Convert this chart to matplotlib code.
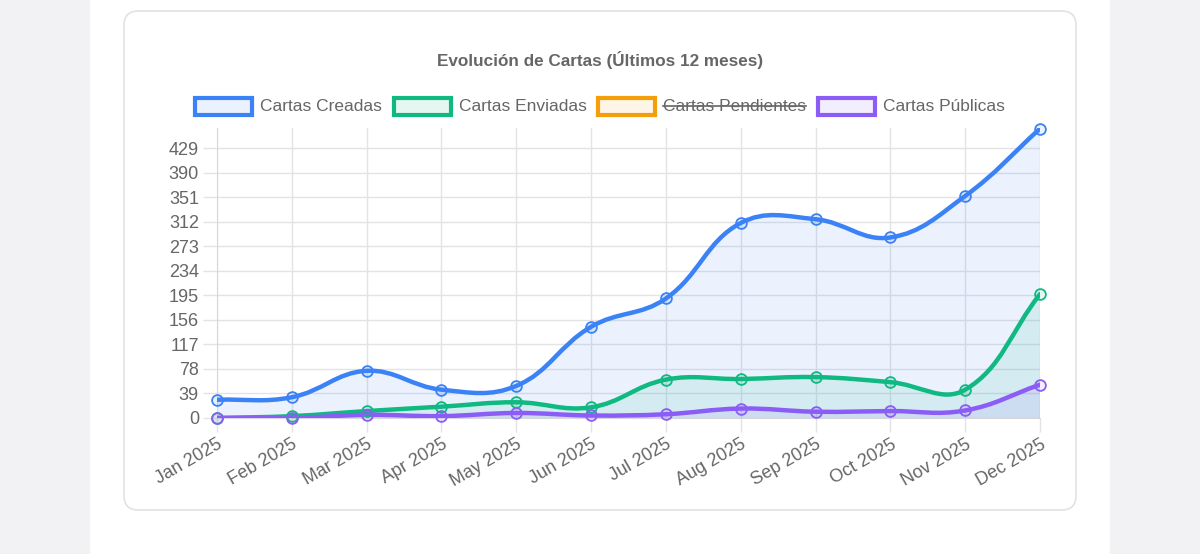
import numpy as np
import matplotlib.pyplot as plt
from matplotlib.patches import FancyBboxPatch, Rectangle
from matplotlib.path import Path
from matplotlib.patches import PathPatch

plt.rcParams['font.family'] = ['Liberation Sans', 'DejaVu Sans']

# data
months = ['Jan 2025', 'Feb 2025', 'Mar 2025', 'Apr 2025', 'May 2025', 'Jun 2025',
          'Jul 2025', 'Aug 2025', 'Sep 2025', 'Oct 2025', 'Nov 2025', 'Dec 2025']
creadas = [29, 33, 75, 45, 51, 145, 190, 310, 316, 287, 353, 460]
enviadas = [0, 3, 11, 18, 25, 17, 61, 62, 65, 57, 45, 197]
pendientes = [0, 0, 0, 0, 0, 0, 0, 0, 0, 0, 0, 0]  # hidden in legend
publicas = [0, 0, 5, 3, 8, 4, 6, 15, 10, 11, 12, 53]
yticks = [0, 39, 78, 117, 156, 195, 234, 273, 312, 351, 390, 429]

names = ['Cartas Creadas', 'Cartas Enviadas', 'Cartas Pendientes', 'Cartas Públicas']
colors = ['#3b82f6', '#10b981', '#f59e0b', '#8b5cf6']
hidden = [False, False, True, False]
series = [creadas, enviadas, pendientes, publicas]

W, H = 1200, 554
fig = plt.figure(figsize=(W / 100, H / 100), dpi=100)
fig.patch.set_facecolor('white')

# page background strips and card
fig.patches.append(Rectangle((0, 0), 89 / W, 1, transform=fig.transFigure,
                             color='#f2f2f5', zorder=-10))
fig.patches.append(Rectangle((1110 / W, 0), 90 / W, 1, transform=fig.transFigure,
                             color='#f2f2f5', zorder=-10))
fig.patches.append(FancyBboxPatch((124 / W, 1 - 510 / H), 952 / W, 499 / H,
                                  boxstyle='round,pad=0,rounding_size=0.012',
                                  transform=fig.transFigure, fc='white',
                                  ec='#e2e2e6', lw=1.2, zorder=-5,
                                  mutation_aspect=W / H))

left, right, top, bottom = 217, 1040, 128, 418
ax = fig.add_axes([left / W, 1 - bottom / H, (right - left) / W, (bottom - top) / H])
ymax = 461
ax.set_xlim(0, len(months) - 1)
ax.set_ylim(0, ymax)
ax.set_facecolor('none')

px_x = (right - left) / (len(months) - 1)
px_y = (bottom - top) / ymax


def spline(xs, ys, t=0.4):
    # Chart.js style bezier spline, distances in pixel space
    n = len(xs)
    px = np.array(xs) * px_x
    py = np.array(ys, dtype=float) * px_y
    cp_prev = [(px[0], py[0])] * n
    cp_next = [(px[0], py[0])] * n
    for i in range(n):
        p0 = (px[max(i - 1, 0)], py[max(i - 1, 0)])
        p1 = (px[i], py[i])
        p2 = (px[min(i + 1, n - 1)], py[min(i + 1, n - 1)])
        d01 = np.hypot(p1[0] - p0[0], p1[1] - p0[1])
        d12 = np.hypot(p2[0] - p1[0], p2[1] - p1[1])
        s = d01 + d12
        s01 = d01 / s if s else 0
        s12 = d12 / s if s else 0
        cp_prev[i] = (p1[0] - t * s01 * (p2[0] - p0[0]), p1[1] - t * s01 * (p2[1] - p0[1]))
        cp_next[i] = (p1[0] + t * s12 * (p2[0] - p0[0]), p1[1] + t * s12 * (p2[1] - p0[1]))
    verts = [(px[0], py[0])]
    codes = [Path.MOVETO]
    for i in range(n - 1):
        c1 = cp_next[i]
        c2 = cp_prev[i + 1]
        c1 = (c1[0], min(max(c1[1], 0), ymax * px_y))
        c2 = (c2[0], min(max(c2[1], 0), ymax * px_y))
        verts += [c1, c2, (px[i + 1], py[i + 1])]
        codes += [Path.CURVE4] * 3
    verts = [(vx / px_x, vy / px_y) for vx, vy in verts]
    return verts, codes


x = np.arange(len(months))
for k, (vals, c, hid) in enumerate(zip(series, colors, hidden)):
    if hid:
        continue
    verts, codes = spline(x, vals)
    fill_verts = verts + [(x[-1], 0), (x[0], 0), verts[0]]
    fill_codes = codes + [Path.LINETO, Path.LINETO, Path.CLOSEPOLY]
    ax.add_patch(PathPatch(Path(fill_verts, fill_codes), fc=c, alpha=0.1, ec='none', zorder=1 + k))
    ax.add_patch(PathPatch(Path(verts, codes), fc='none', ec=c, lw=3.2, zorder=5 + k,
                           capstyle='round', joinstyle='round'))
    ax.scatter(x, vals, s=60, facecolor=c + '1a', edgecolor=c, linewidth=1.3,
               zorder=10 + k, clip_on=False)

# grid
ax.set_xticks(x)
ax.set_xticklabels(months, rotation=30, ha='right', rotation_mode='anchor',
                   fontsize=13, color='#666666')
ax.set_yticks(yticks)
ax.set_yticklabels([str(v) for v in yticks], fontsize=13, color='#666666')
ax.grid(True, color='#e3e3e6', lw=1, zorder=0)
ax.set_axisbelow(True)
ax.tick_params(axis='both', length=10, color='#e3e3e6', width=1)
ax.tick_params(axis='x', pad=3)
ax.tick_params(axis='y', pad=3)
for side in ['top', 'right']:
    ax.spines[side].set_visible(False)
ax.spines['left'].set_color('#d8d8dc')
ax.spines['bottom'].set_color('#d8d8dc')

# title
fig.text(600 / W, 1 - 60 / H, 'Evolución de Cartas (Últimos 12 meses)', ha='center',
         va='center', fontsize=12.3, fontweight='bold', color='#666666')

# legend drawn by hand to show the hidden dataset crossed out
fig.canvas.draw()
renderer = fig.canvas.get_renderer()
box_w, box_h, gap_txt, gap_item = 57, 17, 8, 12
ly = 1 - 106 / H
widths = []
for name in names:
    t = fig.text(0, 0, name, fontsize=12.5)
    widths.append(t.get_window_extent(renderer).width)
    t.remove()
total = sum(box_w + gap_txt + w for w in widths) + gap_item * (len(names) - 1)
cx = 600 - total / 2
for name, c, hid, w in zip(names, colors, hidden, widths):
    fig.patches.append(Rectangle((cx / W, ly - box_h / 2 / H), box_w / W, box_h / H,
                                 transform=fig.transFigure, fc=c + '1a', ec=c, lw=3))
    tx = cx + box_w + gap_txt
    fig.text(tx / W, ly, name, fontsize=12.5, color='#666666', va='center', ha='left')
    if hid:
        fig.lines.append(plt.Line2D([tx / W, (tx + w) / W], [ly, ly], transform=fig.transFigure,
                                    color='#666666', lw=1.2))
    cx = tx + w + gap_item

fig.savefig('out.png', dpi=100)
